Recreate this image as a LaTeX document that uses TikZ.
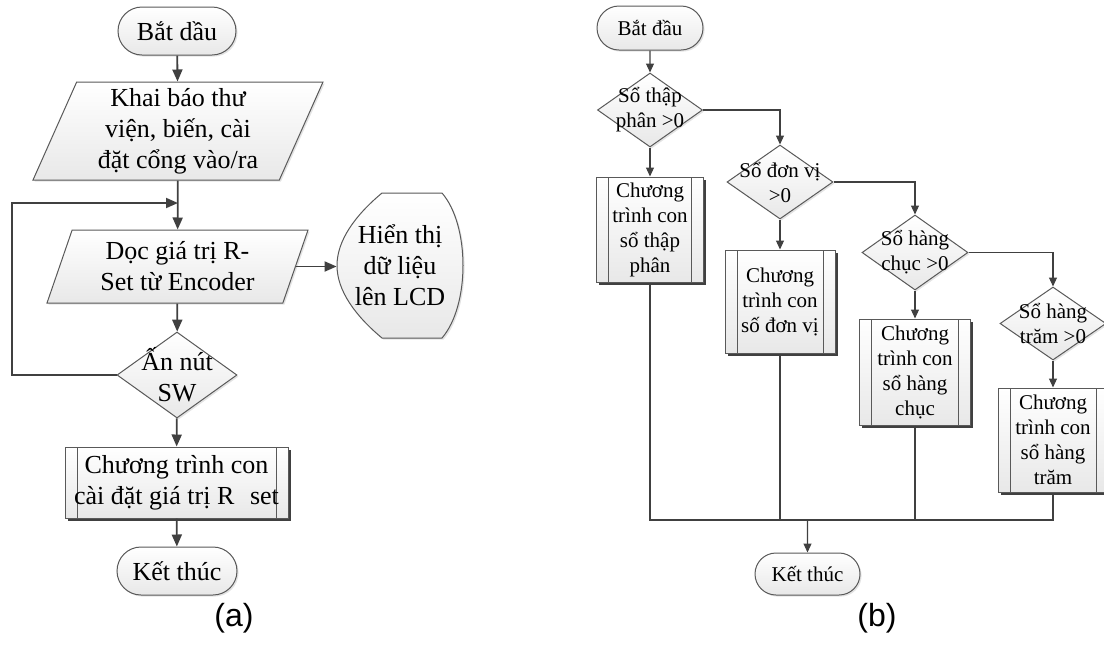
\documentclass[tikz,border=0pt]{standalone}
\usepackage{fontspec}
\setmainfont{Liberation Serif}
\newfontfamily\capfont{Liberation Sans}
\usetikzlibrary{shapes.geometric,shapes.misc,arrows.meta,shadows,backgrounds}

\tikzset{
  shapebase/.style={draw=black!65, line width=0.5pt, top color=white, bottom color=black!9,
    align=center, inner sep=0pt},
  softshadow/.style={drop shadow={shadow xshift=0.8pt,shadow yshift=-0.8pt,fill=black!22}},
  hardshadow/.style={drop shadow={shadow xshift=1.3pt,shadow yshift=-1.3pt,fill=black!75,opacity=1}},
  term/.style={shapebase, softshadow, rounded rectangle},
  databox/.style={shapebase, softshadow, trapezium, trapezium stretches body,
    trapezium left angle=63, trapezium right angle=117},
  decide/.style={shapebase, softshadow, diamond, aspect=1.4, inner sep=-40pt},
  subproc/.style={shapebase, hardshadow, rectangle,
    path picture={
      \draw[black!65] ([xshift=6pt]path picture bounding box.north west)
        -- ([xshift=6pt]path picture bounding box.south west);
      \draw[black!65] ([xshift=-6pt]path picture bounding box.north east)
        -- ([xshift=-6pt]path picture bounding box.south east);}},
  fa/.style={font=\fontsize{13}{15.5}\selectfont},
  fb/.style={font=\fontsize{10.5}{12.5}\selectfont},
  arra/.style={draw=black!75, line width=0.9pt, -{Triangle[length=6pt,width=5pt]}},
  lina/.style={draw=black!75, line width=0.9pt},
  arrb/.style={draw=black!75, line width=0.55pt, -{Triangle[length=4.5pt,width=4pt]}},
  linb/.style={draw=black!75, line width=0.55pt}
}

\begin{document}
\begin{tikzpicture}[x=0.5pt,y=-0.5pt]
  \useasboundingbox (0,0) rectangle (1104,644);

  % (a)
  \node[term,fa,minimum width=59pt,minimum height=24pt] (start_a) at (177,31) {Bắt dầu};
  \node[databox,fa,minimum width=145pt,minimum height=49pt] (decl_a) at (178,131)
    {Khai báo thư\\viện, biến, cài\\đặt cổng vào/ra};
  \node[databox,fa,minimum width=130.5pt,minimum height=36.5pt] (read_a) at (177.5,266.5)
    {Dọc giá trị R-\\Set từ Encoder};
  \node[fa,minimum width=63pt,minimum height=72.5pt,inner sep=0pt,align=center] (lcd_a) at (400,265.5)
    {Hiển thị\\dữ liệu\\lên LCD};
  \node[decide,fa,minimum width=60pt,minimum height=43pt] (sw_a) at (177,375) {Ấn nút\\SW};
  \node[subproc,fa,minimum width=111.5pt,minimum height=35.5pt] (sub_a) at (176.5,482.5)
    {Chương trình con\\cài đặt giá trị R\hspace{0.6em}set};
  \node[term,fa,minimum width=60pt,minimum height=24pt] (end_a) at (177,571) {Kết thúc};
  \node[font=\capfont\fontsize{16}{18}\selectfont] (cap_a) at (234,618) {(a)};

  \begin{scope}[on background layer]
    \draw[shapebase,softshadow,shift={(lcd_a.center)}]
      (-18,-72.5) -- (42,-72.5) .. controls (70,-40) and (70,40) .. (42,72.5)
      -- (-18,72.5) .. controls (-45,50) and (-63,25) .. (-63,0)
      .. controls (-63,-25) and (-45,-50) .. (-18,-72.5) -- cycle;
  \end{scope}

  \coordinate (join_a) at (178,203);
  \coordinate (back_a) at (12,375);

  \draw[arra] (start_a) -- (decl_a);
  \draw[arra] (decl_a) -- (read_a);
  \draw[arra] (read_a.east) -- (read_a.east -| lcd_a.west);
  \draw[arra] (read_a) -- (sw_a);
  \draw[arra] (sw_a.west) -- (back_a) |- (join_a);
  \draw[arra] (sw_a) -- (sub_a);
  \draw[arra] (sub_a) -- (end_a);

  % (b)
  \node[term,fb,minimum width=53pt,minimum height=22pt] (start_b) at (650,28) {Bắt đầu};
  \node[decide,fb,minimum width=52.5pt,minimum height=37pt] (d_1) at (650,110) {Sổ thập\\phân >0};
  \node[decide,fb,minimum width=53pt,minimum height=37pt] (d_2) at (780,182) {Sổ đơn vị\\>0};
  \node[decide,fb,minimum width=53pt,minimum height=37.5pt] (d_3) at (915,252.5) {Sổ hàng\\chục >0};
  \node[decide,fb,minimum width=53pt,minimum height=36.5pt] (d_4) at (1053,323.5) {Sổ hàng\\trăm >0};

  \node[subproc,fb,minimum width=53.5pt,minimum height=52.5pt] (p_1) at (650,229.5)
    {Chương\\trình con\\sổ thập\\phân};
  \node[subproc,fb,minimum width=55pt,minimum height=51.5pt] (p_2) at (780,301.5)
    {Chương\\trình con\\số đơn vị};
  \node[subproc,fb,minimum width=55.5pt,minimum height=53pt] (p_3) at (915,372)
    {Chương\\trình con\\sổ hàng\\chục};
  \node[subproc,fb,minimum width=55pt,minimum height=52pt] (p_4) at (1053,440)
    {Chương\\trình con\\sổ hàng\\trăm};

  \node[term,fb,minimum width=52.5pt,minimum height=21pt] (end_b) at (807.5,574) {Kết thúc};
  \node[font=\capfont\fontsize{16}{18}\selectfont] (cap_b) at (877,618) {(b)};

  \coordinate (m_1) at (650,520);
  \coordinate (m_4) at (1053,520);
  \coordinate (m_0) at (807.5,520);

  \draw[arrb] (start_b) -- (d_1);
  \draw[arrb] (d_1) -- (p_1);
  \draw[arrb] (d_1.east) -| (d_2.north);
  \draw[arrb] (d_2) -- (p_2);
  \draw[arrb] (d_2.east) -| (d_3.north);
  \draw[arrb] (d_3) -- (p_3);
  \draw[arrb] (d_3.east) -| (d_4.north);
  \draw[arrb] (d_4) -- (p_4);

  \draw[linb] (p_1.south) -- (m_1) -- (m_4) -- (p_4.south);
  \draw[linb] (p_2.south) -- (p_2.south |- m_1);
  \draw[linb] (p_3.south) -- (p_3.south |- m_1);
  \draw[arrb] (m_0) -- (end_b);
\end{tikzpicture}
\end{document}
